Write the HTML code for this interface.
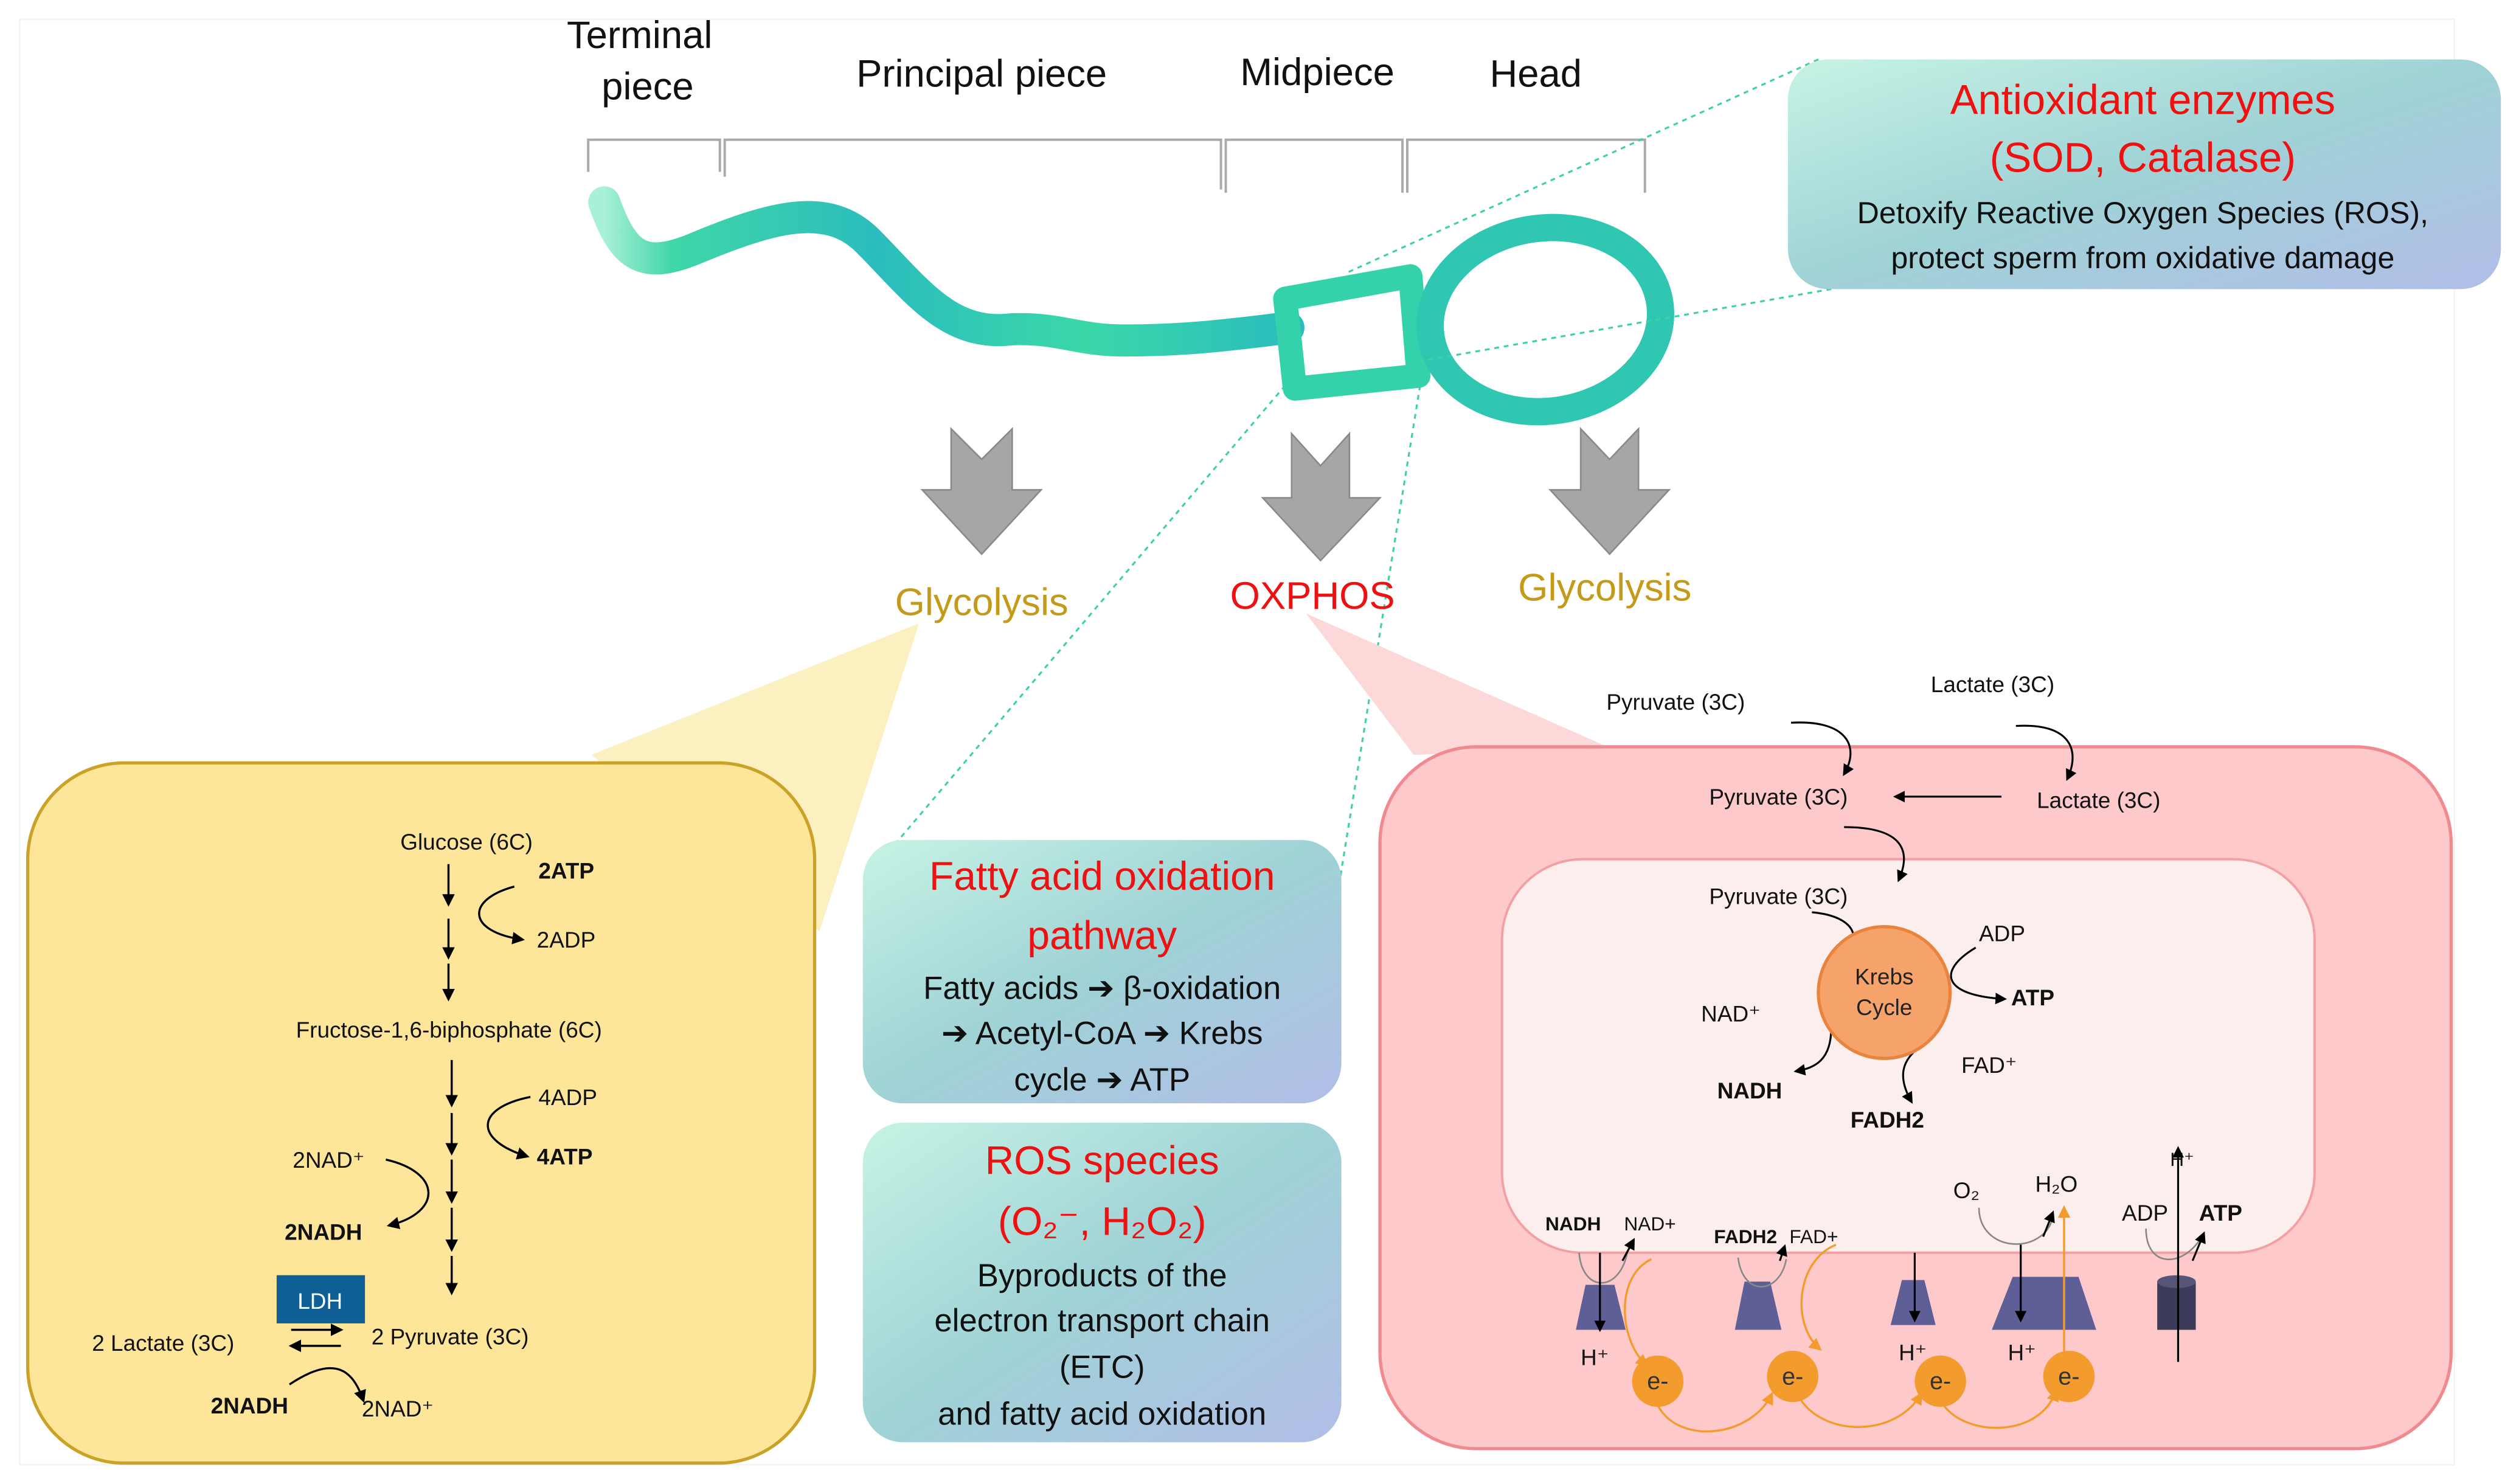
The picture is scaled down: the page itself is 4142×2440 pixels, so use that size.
<!DOCTYPE html>
<html><head><meta charset="utf-8"><style>
html,body{margin:0;padding:0;background:#fff}
svg{display:block}
text{font-family:"Liberation Sans",sans-serif}
</style></head><body>
<svg width="4142" height="2440" viewBox="0 0 1568 924" xmlns="http://www.w3.org/2000/svg">
<defs>
<linearGradient id="tail" x1="0" y1="0" x2="1" y2="0">
<stop offset="0" stop-color="#a8f0d8"/><stop offset="0.1" stop-color="#3fd6a8"/><stop offset="0.4" stop-color="#2bbdbd"/><stop offset="0.7" stop-color="#3ad8a8"/><stop offset="1" stop-color="#2bbdbd"/>
</linearGradient>
<linearGradient id="box" x1="0" y1="0" x2="1" y2="1">
<stop offset="0" stop-color="#c6f3e4"/><stop offset="0.5" stop-color="#9fd2d6"/><stop offset="1" stop-color="#b2bde8"/>
</linearGradient>
<marker id="ah" viewBox="0 0 10 10" refX="8" refY="5" markerWidth="6" markerHeight="6" orient="auto"><path d="M0,0L10,5L0,10z" fill="#000"/></marker>
<marker id="oh" viewBox="0 0 10 10" refX="8" refY="5" markerWidth="6" markerHeight="6" orient="auto"><path d="M0,0L10,5L0,10z" fill="#f39b2c"/></marker>
</defs>
<rect x="12" y="12" width="1516" height="900" fill="#fff" stroke="#f3f3f3"/>

<g font-size="24" text-anchor="middle" fill="#111">
<text x="398" y="30">Terminal</text><text x="403" y="62">piece</text>
<text x="611" y="54">Principal piece</text>
<text x="820" y="53">Midpiece</text>
<text x="956" y="54">Head</text>
</g>
<g stroke="#aaa" stroke-width="1.5" fill="none">
<path d="M366,107V87H448V107"/><path d="M451,110V87H760V118"/><path d="M763,120V87H873V120"/><path d="M876,120V87H1024V120"/>
</g>

<!-- sperm -->
<path d="M376,126C388,160 400,168 432,155C480,135 515,125 540,150C570,180 590,210 630,205C660,204 670,212 700,212C740,212 770,208 802,204" fill="none" stroke="url(#tail)" stroke-width="20" stroke-linecap="round"/>
<path d="M800,186L878,172L883,234L806,242Z" fill="none" stroke="#34d2aa" stroke-width="15" stroke-linejoin="round"/>
<ellipse cx="962" cy="199" rx="72" ry="57" fill="none" stroke="#2fc7b2" stroke-width="17" transform="rotate(-8 962 199)"/>

<g stroke="#3fd0a8" stroke-width="1.2" stroke-dasharray="3,3" fill="none">
<path d="M1132,37L838,170"/><path d="M1140,180L878,226"/>
<path d="M800,240L538,548"/><path d="M884,240L834,548"/>
</g>

<rect x="1113" y="37" width="444" height="143" rx="25" fill="url(#box)"/>
<text x="1334" y="71" font-size="26" fill="#f01010" text-anchor="middle">Antioxidant enzymes</text>
<text x="1334" y="107" font-size="26" fill="#f01010" text-anchor="middle">(SOD, Catalase)</text>
<text x="1334" y="139" font-size="19" fill="#111" text-anchor="middle">Detoxify Reactive Oxygen Species (ROS),</text>
<text x="1334" y="167" font-size="19" fill="#111" text-anchor="middle">protect sperm from oxidative damage</text>

<g fill="#a6a6a6" stroke="#8a8a8a" stroke-width="1">
<path d="M592,267L611,286L630,267V305H648L611,345L574,305H592Z"/>
<path d="M804,270L822,290L840,270V310H859L822,349L786,310H804Z"/>
<path d="M984,267L1002,286L1020,267V305H1039L1002,345L965,305H984Z"/>
</g>
<text x="611" y="383" font-size="24" fill="#c49a1a" text-anchor="middle">Glycolysis</text>
<text x="817" y="379" font-size="24" fill="#ee1111" text-anchor="middle">OXPHOS</text>
<text x="999" y="374" font-size="24" fill="#c49a1a" text-anchor="middle">Glycolysis</text>

<path d="M572,388L368,470L510,580Z" fill="#fdf0c0"/>
<path d="M813,382L880,470L1003,466Z" fill="#fcd8d8"/>

<rect x="17" y="475" width="490" height="436" rx="60" fill="#fde69a" stroke="#c9a227" stroke-width="2"/>
<g font-size="14" fill="#111">
<text x="249" y="529">Glucose (6C)</text>
<text x="335" y="547" font-weight="bold">2ATP</text>
<text x="334" y="590">2ADP</text>
<text x="184" y="646">Fructose-1,6-biphosphate (6C)</text>
<text x="335" y="688">4ADP</text>
<text x="334" y="725" font-weight="bold">4ATP</text>
<text x="182" y="727">2NAD⁺</text>
<text x="177" y="772" font-weight="bold">2NADH</text>
<text x="57" y="841">2 Lactate (3C)</text>
<text x="231" y="837">2 Pyruvate (3C)</text>
<text x="131" y="880" font-weight="bold">2NADH</text>
<text x="225" y="882">2NAD⁺</text>
</g>
<g stroke="#000" stroke-width="1.3" fill="none" marker-end="url(#ah)">
<path d="M279,538V563"/><path d="M279,572V596"/><path d="M279,600V622"/>
<path d="M281,660V688"/><path d="M281,693V718"/><path d="M281,722V748"/><path d="M281,752V778"/><path d="M281,782V805"/>
<path d="M320,552C290,560 290,580 325,585"/>
<path d="M330,683C295,690 295,710 328,720"/>
<path d="M240,722C275,730 275,755 242,763"/>
<path d="M181,828H212"/><path d="M212,838H181"/>
<path d="M180,862C210,842 220,855 226,872"/>
</g>
<rect x="172" y="794" width="55" height="30" fill="#0e5f96"/>
<text x="199" y="815" font-size="14" fill="#fff" text-anchor="middle">LDH</text>

<rect x="537" y="523" width="298" height="164" rx="25" fill="url(#box)"/>
<text x="686" y="554" font-size="25" fill="#ee1111" text-anchor="middle">Fatty acid oxidation</text>
<text x="686" y="591" font-size="25" fill="#ee1111" text-anchor="middle">pathway</text>
<text x="686" y="622" font-size="20" fill="#111" text-anchor="middle">Fatty acids ➔ β-oxidation</text>
<text x="686" y="650" font-size="20" fill="#111" text-anchor="middle">➔ Acetyl-CoA ➔ Krebs</text>
<text x="686" y="679" font-size="20" fill="#111" text-anchor="middle">cycle ➔ ATP</text>
<rect x="537" y="699" width="298" height="199" rx="25" fill="url(#box)"/>
<text x="686" y="731" font-size="25" fill="#ee1111" text-anchor="middle">ROS species</text>
<text x="686" y="769" font-size="25" fill="#ee1111" text-anchor="middle">(O₂⁻, H₂O₂)</text>
<text x="686" y="801" font-size="20" fill="#111" text-anchor="middle">Byproducts of the</text>
<text x="686" y="829" font-size="20" fill="#111" text-anchor="middle">electron transport chain</text>
<text x="686" y="858" font-size="20" fill="#111" text-anchor="middle">(ETC)</text>
<text x="686" y="887" font-size="20" fill="#111" text-anchor="middle">and fatty acid oxidation</text>

<rect x="859" y="465" width="667" height="437" rx="60" fill="#fdc9ca" stroke="#f08a8f" stroke-width="2"/>
<rect x="935" y="535" width="506" height="245" rx="50" fill="#fdeeee" stroke="#f3a0a5" stroke-width="1.5"/>
<g font-size="14" fill="#111">
<text x="1000" y="442">Pyruvate (3C)</text>
<text x="1202" y="431">Lactate (3C)</text>
<text x="1064" y="501">Pyruvate (3C)</text>
<text x="1268" y="503">Lactate (3C)</text>
<text x="1064" y="563">Pyruvate (3C)</text>
<text x="1232" y="586">ADP</text>
<text x="1252" y="626" font-weight="bold">ATP</text>
<text x="1059" y="636">NAD⁺</text>
<text x="1069" y="684" font-weight="bold">NADH</text>
<text x="1221" y="668">FAD⁺</text>
<text x="1152" y="702" font-weight="bold">FADH2</text>
<text x="962" y="766" font-size="12" font-weight="bold">NADH</text>
<text x="1011" y="766" font-size="12">NAD+</text>
<text x="1067" y="774" font-size="12" font-weight="bold">FADH2</text>
<text x="1114" y="774" font-size="12">FAD+</text>
<text x="1216" y="746">O₂</text>
<text x="1267" y="742">H₂O</text>
<text x="1321" y="760">ADP</text>
<text x="1369" y="760" font-weight="bold">ATP</text>
<text x="1351" y="726" font-size="12">H⁺</text>
<text x="984" y="850">H⁺</text>
<text x="1182" y="847">H⁺</text>
<text x="1250" y="847">H⁺</text>
</g>
<g stroke="#000" stroke-width="1.2" fill="none" marker-end="url(#ah)">
<path d="M1115,450C1150,448 1158,465 1148,482"/>
<path d="M1255,452C1290,450 1295,468 1287,485"/>
<path d="M1246,496H1180"/>
<path d="M1148,515C1185,515 1190,530 1182,548"/>
<path d="M1128,568C1150,570 1158,580 1152,590"/>
<path d="M1230,590C1205,605 1210,620 1248,622"/>
<path d="M1140,640C1140,660 1130,665 1118,667"/>
<path d="M1198,650C1182,660 1182,672 1190,686"/>
</g>
<circle cx="1173" cy="618" r="41" fill="#f5a36b" stroke="#e8843e" stroke-width="2"/>
<text x="1173" y="613" font-size="14" fill="#222" text-anchor="middle">Krebs</text>
<text x="1173" y="632" font-size="14" fill="#222" text-anchor="middle">Cycle</text>

<g fill="#5e5f96">
<path d="M987,800H1005L1012,828H981Z"/>
<path d="M1086,798H1102L1109,828H1080Z"/>
<path d="M1184,797H1198L1205,825H1177Z"/>
<path d="M1253,795H1294L1305,828H1240Z"/>
<rect x="1343" y="798" width="24" height="30" fill="#3c3c5a"/>
</g>
<ellipse cx="1355" cy="798" rx="12" ry="4" fill="#55557a"/>
<g stroke="#888" stroke-width="1" fill="none">
<path d="M983,780C985,805 1008,805 1013,780"/>
<path d="M1082,783C1085,808 1108,806 1112,784"/>
<path d="M1232,752C1232,780 1272,782 1278,758"/>
<path d="M1336,765C1336,790 1360,790 1372,768"/>
</g>
<g stroke="#000" stroke-width="1.2" fill="none" marker-end="url(#ah)">
<path d="M996,780V828"/><path d="M1010,785L1017,772"/>
<path d="M1108,785L1111,776"/>
<path d="M1192,780V822"/><path d="M1258,775V822"/><path d="M1272,770L1278,755"/>
<path d="M1356,848V715"/><path d="M1365,785L1372,768"/>
</g>
<g stroke="#f39b2c" stroke-width="1.3" fill="none" marker-end="url(#oh)">
<path d="M1028,784C1005,795 1008,835 1025,850"/>
<path d="M1143,775C1118,785 1115,825 1133,840"/>
<path d="M1285,845V752"/>
<path d="M1032,875C1045,900 1090,895 1103,868"/>
<path d="M1120,870C1135,895 1180,895 1196,868"/>
<path d="M1210,875C1225,895 1270,895 1280,866"/>
</g>
<g fill="#f39b2c">
<circle cx="1032" cy="860" r="16"/><circle cx="1116" cy="857" r="16"/><circle cx="1208" cy="860" r="16"/><circle cx="1288" cy="857" r="16"/>
</g>
<g font-size="15" fill="#333" text-anchor="middle">
<text x="1032" y="865">e-</text><text x="1116" y="862">e-</text><text x="1208" y="865">e-</text><text x="1288" y="862">e-</text>
</g>
</svg>
</body></html>
